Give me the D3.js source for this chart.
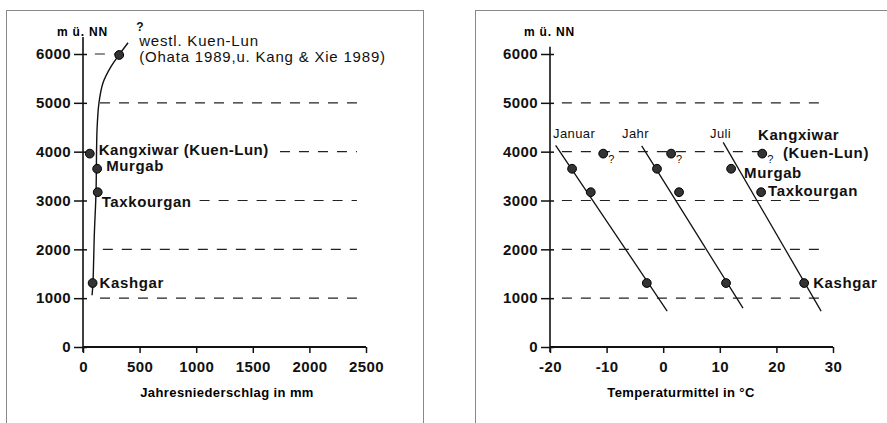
<!DOCTYPE html>
<html>
<head>
<meta charset="utf-8">
<script src="https://cdn.jsdelivr.net/npm/d3@7"></script>
<style>
  body { margin: 0; background: #fff; }
  svg { font-family: "Liberation Sans", Arial, sans-serif; }
  .tick text { font-size: 15px; font-weight: bold; letter-spacing: 0.4px; fill: #111; }
</style>
</head>
<body>
<div id="chart"></div>
<script>
// stations (order: Kangxiwar, Murgab, Taxkourgan, Kashgar)
const stations = ["Kangxiwar", "Murgab", "Taxkourgan", "Kashgar"];
const elevation = [3960, 3650, 3170, 1310];
const precip = [60, 125, 130, 85];

// westl. Kuen-Lun point
const kuenLunPrecip = 320;
const kuenLunElev = 5980;

// curve precipitation vs. elevation
const curvePrecip = [80, 88, 100, 115, 124, 141, 177, 247, 318, 398];
const curveElev = [1060, 1310, 2300, 3170, 4450, 5000, 5410, 5740, 5980, 6230];

// temperatures
const tJanuar = [-10.6, -16.1, -12.8, -2.9];
const tJahr = [1.4, -1.1, 2.8, 11.1];
const tJuli = [17.5, 12.0, 17.3, 24.9];

// fitted lines [temp, elevation] start / end
const lineJanuar = [[-19.0, 4130], [0.7, 735]];
const lineJahr = [[-3.8, 4120], [14.1, 795]];
const lineJuli = [[10.6, 4190], [27.9, 735]];

const yTicks = [0, 1000, 2000, 3000, 4000, 5000, 6000];
const precipTicks = [0, 500, 1000, 1500, 2000, 2500];
const tempTicks = [-20, -10, 0, 10, 20, 30];

const svg = d3.select("#chart")
    .append("svg")
    .attr("width", 887)
    .attr("height", 423);

// frames
svg.append("rect")
    .attr("x", 6.5).attr("y", 10.5)
    .attr("width", 417).attr("height", 440)
    .attr("fill", "none").attr("stroke", "#888").attr("stroke-width", 1);
svg.append("rect")
    .attr("x", 475.5).attr("y", 10.5)
    .attr("width", 440).attr("height", 440)
    .attr("fill", "none").attr("stroke", "#888").attr("stroke-width", 1);

const y = d3.scaleLinear().domain([0, 6000]).range([347, 54]);
const xP = d3.scaleLinear().domain([0, 2500]).range([83, 366]);
const xT = d3.scaleLinear().domain([-20, 30]).range([550, 833]);

const dash = "10,9";
const plain = d => String(d); // keep "-20" with a hyphen like the print

function drawAxes(x, ticks, yTop, title, titleX) {
    const g = svg.append("g");
    // y axis
    const ya = g.append("g")
        .attr("transform", `translate(${x.range()[0]},0)`)
        .call(d3.axisLeft(y).tickValues(yTicks).tickSize(9).tickPadding(3).tickFormat(plain));
    ya.select(".domain").remove();
    ya.selectAll(".tick line").attr("x1", 4).attr("stroke", "#111").attr("stroke-width", 1.5);
    g.append("line")
        .attr("x1", x.range()[0]).attr("x2", x.range()[0])
        .attr("y1", y(yTop)).attr("y2", y(0) + 5)
        .attr("stroke", "#111").attr("stroke-width", 1.6);
    // x axis
    const xa = g.append("g")
        .attr("transform", `translate(0,${y(0)})`)
        .call(d3.axisBottom(x).tickValues(ticks).tickSize(6).tickPadding(8).tickFormat(plain));
    xa.select(".domain").remove();
    xa.selectAll(".tick line").attr("stroke", "#111").attr("stroke-width", 1.5);
    g.append("line")
        .attr("x1", x.range()[0]).attr("x2", x.range()[1])
        .attr("y1", y(0)).attr("y2", y(0))
        .attr("stroke", "#111").attr("stroke-width", 1.8);
    // labels
    g.append("text")
        .attr("x", x.range()[0] - 26).attr("y", 36)
        .attr("font-size", 12).attr("font-weight", "bold").attr("letter-spacing", 0.8)
        .text("m ü. NN");
    g.append("text")
        .attr("x", titleX).attr("y", 397)
        .attr("text-anchor", "middle")
        .attr("font-size", 13).attr("font-weight", "bold").attr("letter-spacing", 0.4)
        .text(title);
}

function grid(x, from, to, elev) {
    svg.append("line")
        .attr("x1", x(from)).attr("x2", x(to))
        .attr("y1", y(elev)).attr("y2", y(elev))
        .attr("stroke", "#222").attr("stroke-width", 1.1)
        .attr("stroke-dasharray", dash);
}

function dot(cx, cy) {
    svg.append("circle")
        .attr("cx", cx).attr("cy", cy).attr("r", 4.4)
        .attr("fill", "#333").attr("stroke", "#000").attr("stroke-width", 1);
}

function label(tx, ty, txt, size, weight, ls) {
    svg.append("text")
        .attr("x", tx).attr("y", ty)
        .attr("font-size", size || 15)
        .attr("font-weight", weight || "bold")
        .attr("letter-spacing", ls === undefined ? 0.6 : ls)
        .attr("fill", "#111")
        .text(txt);
}

// ---------- left panel ----------
drawAxes(xP, precipTicks, 6350, "Jahresniederschlag in mm", 227);

grid(xP, 105, 300, 6000);
grid(xP, 150, 2420, 5000);
grid(xP, 1740, 2420, 4000);
grid(xP, 1030, 2420, 3000);
grid(xP, 175, 2420, 2000);
grid(xP, 150, 2420, 1000);

svg.append("path")
    .datum(curvePrecip.map((p, i) => [p, curveElev[i]]))
    .attr("d", d3.line().x(d => xP(d[0])).y(d => y(d[1])).curve(d3.curveCatmullRom))
    .attr("fill", "none").attr("stroke", "#111").attr("stroke-width", 1.4);

stations.forEach((s, i) => dot(xP(precip[i]), y(elevation[i])));
dot(xP(kuenLunPrecip), y(kuenLunElev));

label(xP(precip[0]) + 9, y(elevation[0]) + 1, "Kangxiwar (Kuen-Lun)", 15, "bold", 0.5);
label(xP(precip[1]) + 9, y(elevation[1]) + 2, "Murgab");
label(xP(precip[2]) + 4, y(elevation[2]) + 15, "Taxkourgan");
label(xP(precip[3]) + 7, y(elevation[3]) + 5, "Kashgar");
label(xP(kuenLunPrecip) + 17, y(kuenLunElev) - 24, "?", 12, "bold");
label(xP(kuenLunPrecip) + 20, y(kuenLunElev) - 9, "westl. Kuen-Lun", 15, "normal", 0.8);
label(xP(kuenLunPrecip) + 20, y(kuenLunElev) + 7, "(Ohata 1989,u. Kang & Xie 1989)", 15, "normal", 0.8);

// ---------- right panel ----------
drawAxes(xT, tempTicks, 6150, "Temperaturmittel in °C", 681);

grid(xT, -17.9, 28.2, 5000);
grid(xT, -17.9, 17.5, 4000);
grid(xT, -17.9, 28.8, 3000);
grid(xT, -17.9, 28.2, 2000);
grid(xT, -17.9, 28.8, 1000);

[lineJanuar, lineJahr, lineJuli].forEach(l => {
    svg.append("line")
        .attr("x1", xT(l[0][0])).attr("y1", y(l[0][1]))
        .attr("x2", xT(l[1][0])).attr("y2", y(l[1][1]))
        .attr("stroke", "#111").attr("stroke-width", 1.3);
});

[tJanuar, tJahr, tJuli].forEach(t => {
    stations.forEach((s, i) => dot(xT(t[i]), y(elevation[i])));
    label(xT(t[0]) + 5, y(elevation[0]) + 9, "?", 11, "normal", 0);
});

label(553, 138, "Januar", 13, "normal", 0.4);
label(622, 138, "Jahr", 13, "normal", 0.4);
label(710, 138, "Juli", 13, "normal", 0.4);

label(758, 140, "Kangxiwar");
label(783, 158, "(Kuen-Lun)");
label(xT(tJuli[1]) + 13, y(elevation[1]) + 9, "Murgab");
label(xT(tJuli[2]) + 7, y(elevation[2]) + 4, "Taxkourgan");
label(xT(tJuli[3]) + 9, y(elevation[3]) + 5, "Kashgar");
</script>
</body>
</html>
